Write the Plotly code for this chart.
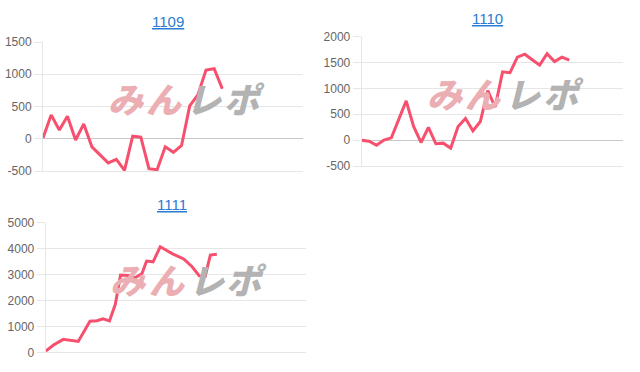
import plotly.graph_objects as go

# ---- data ----
title1, title2, title3 = "1109", "1110", "1111"

x1 = list(range(23))
y1 = [10, 370, 135, 350, -20, 230, -125, -250, -375, -320, -490, 40, 25,
      -465, -480, -125, -210, -105, 510, 680, 1065, 1085, 775]

x2 = list(range(29))
y2 = [0, -20, -100, 0, 45, 400, 760, 264, -45, 245, -70, -58, -155, 264,
      419, 180, 360, 960, 640, 1320, 1305, 1605, 1662, 1555, 1450, 1670,
      1520, 1605, 1545]

x3 = [0, 1.2, 2.7, 4.0, 5.0, 6.8, 7.9, 8.8, 9.8, 10.7, 11.5, 12.7, 13.7,
      14.8, 15.5, 16.5, 17.6, 19.5, 21.2, 22.5, 23.6, 24.5, 25.3, 26.3]
y3 = [50, 280, 500, 470, 420, 1200, 1220, 1290, 1210, 1850, 2980, 2960,
      2870, 3040, 3520, 3490, 4070, 3800, 3600, 3300, 2950, 2930, 3750, 3780]

ticks1 = [-500, 0, 500, 1000, 1500]
ticks2 = [-500, 0, 500, 1000, 1500, 2000]
ticks3 = [0, 1000, 2000, 3000, 4000, 5000]

W, H = 640, 372
LINE = "#f7506f"
GRID = "#e6e6e6"
ZERO = "#c8c8c8"
TICKF = dict(family="Liberation Sans, Arial, sans-serif", size=12, color="#666666")

# panel geometry in pixels: (left, right, top, bottom)
panels = [
    (43.0, 303.0, 42.0, 171.0),
    (361.7, 622.7, 36.7, 166.0),
    (45.7, 306.0, 222.7, 352.3),
]
xranges = [[0, 31.9], [0, 35.2], [0, 40]]
yranges = [[-500, 1500], [-500, 2000], [0, 5000]]
tickss = [ticks1, ticks2, ticks3]
datas = [(x1, y1), (x2, y2), (x3, y3)]
titles = [(title1, 168, 22), (title2, 487.7, 19), (title3, 171.7, 205)]

fig = go.Figure()
annotations = []
for i, ((l, r, t, b), xr, yr, tk, (xs, ys)) in enumerate(
        zip(panels, xranges, yranges, tickss, datas)):
    n = "" if i == 0 else str(i + 1)
    fig.add_trace(go.Scatter(x=xs, y=ys, mode="lines",
                             line=dict(color=LINE, width=3),
                             xaxis="x" + n, yaxis="y" + n,
                             showlegend=False, hoverinfo="skip"))
    fig.layout["xaxis" + n] = dict(
        domain=[l / W, r / W], range=xr, anchor="y" + n,
        showgrid=False, zeroline=False, showticklabels=False, ticks="",
        showline=True, linecolor=GRID, linewidth=1, fixedrange=True,
        automargin=False)
    fig.layout["yaxis" + n] = dict(
        domain=[1 - b / H, 1 - t / H], range=yr, anchor="x" + n,
        tickvals=tk, ticktext=[str(v) for v in tk],
        showgrid=True, gridcolor=GRID, gridwidth=1,
        zeroline=True, zerolinecolor=ZERO, zerolinewidth=1,
        showline=True, linecolor=GRID, linewidth=1,
        ticks="outside", ticklen=8, tickcolor=GRID,
        tickfont=TICKF, fixedrange=True, automargin=False)
    # watermark logo
    cx = (l + r) / 2 + 12
    cy = t + 0.43 * (b - t)
    for ch, dx, col in [("み", -59, "#ebaeb2"), ("ん", -21, "#ebaeb2"),
                        ("レ", 19, "#b3b3b3"), ("ポ", 59, "#b3b3b3")]:
        annotations.append(dict(
            text=ch, x=(cx + dx) / W, y=1 - cy / H, xref="paper", yref="paper",
            xanchor="center", yanchor="middle", showarrow=False,
            font=dict(family="Noto Sans CJK JP", size=35, color=col,
                      weight=900, style="italic")))

for txt, tx, ty in titles:
    annotations.append(dict(
        text='<span style="text-decoration:underline">' + txt + '</span>',
        x=tx / W, y=1 - ty / H, xref="paper", yref="paper",
        xanchor="center", yanchor="middle", showarrow=False,
        font=dict(family="Liberation Sans, Arial, sans-serif", size=15,
                  color="#2a7bd2")))

fig.update_layout(width=W, height=H,
                  margin=dict(l=0, r=0, t=0, b=0, pad=0, autoexpand=False),
                  paper_bgcolor="white", plot_bgcolor="white",
                  annotations=annotations, showlegend=False)
fig.write_html("out.html")
